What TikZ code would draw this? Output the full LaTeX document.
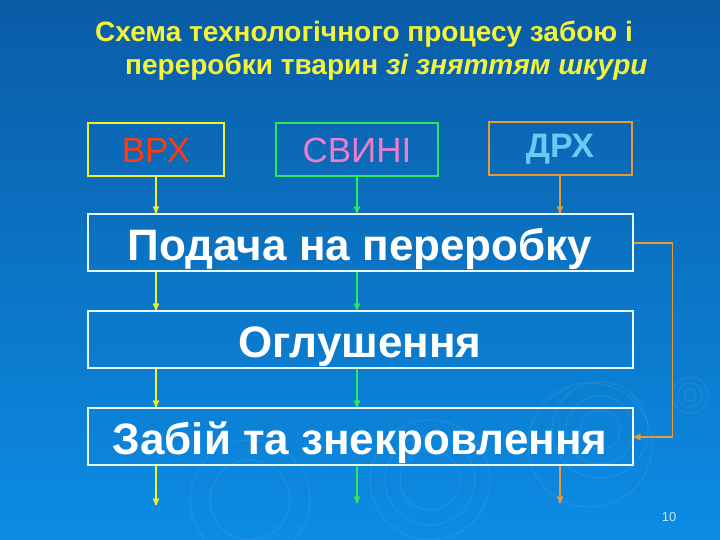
\documentclass[tikz,border=0pt]{standalone}
\usepackage{fontspec}
\setmainfont{Liberation Sans}
\usetikzlibrary{arrows,positioning,calc}
\definecolor{bgtop}{HTML}{0A5CA6}
\definecolor{bgbot}{HTML}{0C8CE4}
\definecolor{vrhyellow}{HTML}{F2F22A}
\definecolor{vrhred}{HTML}{FF3A10}
\definecolor{svgreen}{HTML}{2CE85A}
\definecolor{svpink}{HTML}{EE7CCC}
\definecolor{drorange}{HTML}{E89A30}
\definecolor{drblue}{HTML}{6CC8F4}
\definecolor{titleyellow}{HTML}{F4F43C}
\definecolor{framewhite}{HTML}{E8FAFF}
\begin{document}
\begin{tikzpicture}[x=1pt,y=1pt,>=stealth',
   animal/.style={draw,line width=2pt,minimum height=53pt,inner sep=0pt,
                  font=\fontsize{35}{35}\selectfont},
   stage/.style={draw=framewhite,line width=2pt,minimum width=545pt,minimum height=57pt,
                 inner sep=0pt,text height=35pt,text depth=0pt,text=white,
                 font=\bfseries\fontsize{44}{44}\selectfont},
   flow/.style={->,line width=1.5pt},
   title/.style={anchor=base west,text=titleyellow,inner sep=0pt,
                 font=\bfseries\fontsize{28}{28}\selectfont}]
   % background
   \fill[top color=bgtop,bottom color=bgbot] (0,0) rectangle (720,540);
   \useasboundingbox (0,0) rectangle (720,540);
   \foreach \cx/\cy/\r in {690/145/6,690/145/12,690/145/18,600/110/20,600/110/34,600/110/48,
                           590/95/62,430/60/30,430/60/45,430/60/60,250/40/40,250/40/60}
      \draw[white,opacity=0.08,line width=1pt] (\cx,\cy) circle (\r);

   \node[title] (T1) at (95,498) {Схема технологічного процесу забою і};
   \node[title] (T2) at (125,465) {переробки тварин \textit{зі зняттям шкури}};

   \node[animal,draw=vrhyellow,text=vrhred,minimum width=136pt] (VRH) at (156,390) {ВРХ};
   \node[animal,draw=svgreen,text=svpink,minimum width=162pt] (SVN) at (357,390) {СВИНІ};
   \node[animal,draw=drorange,text=drblue,minimum width=143pt,
         font=\bfseries\fontsize{34}{34}\selectfont] (DRH) at (560,391) {ДРХ};

   \node[stage] (POD) at (360,297) {Подача на переробку};
   \node[stage] (OGL) [below=38pt of POD] {Оглушення};
   \node[stage] (ZAB) [below=38pt of OGL] {Забій та знекровлення};

   \coordinate (outV) at ([yshift=-39pt]ZAB.south -| VRH);
   \coordinate (outS) at ([yshift=-37pt]ZAB.south -| SVN);
   \coordinate (outD) at ([yshift=-37pt]ZAB.south -| DRH);

   \node[text=drblue!40!white,font=\fontsize{13}{13}\selectfont] (PG) at (669,23) {10};

   \path[flow,vrhyellow]
      (VRH.south) edge (VRH.south |- POD.north)
      (POD.south -| VRH) edge (OGL.north -| VRH)
      (OGL.south -| VRH) edge (ZAB.north -| VRH)
      (ZAB.south -| VRH) edge (outV);
   \path[flow,svgreen]
      (SVN.south) edge (SVN.south |- POD.north)
      (POD.south -| SVN) edge (OGL.north -| SVN)
      (OGL.south -| SVN) edge (ZAB.north -| SVN)
      (ZAB.south -| SVN) edge (outS);
   \path[flow,drorange]
      (DRH.south) edge (DRH.south |- POD.north)
      (ZAB.south -| DRH) edge (outD);
   \draw[flow,drorange] (POD.east) -- ++(39,0) |- (ZAB.east);
\end{tikzpicture}
\end{document}
